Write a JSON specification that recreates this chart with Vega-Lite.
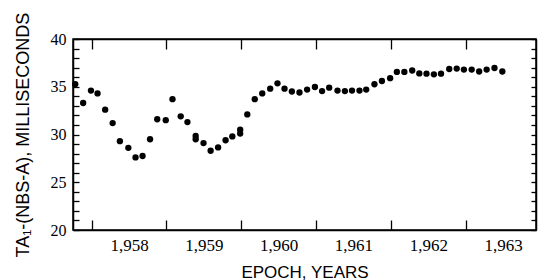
{
  "$schema": "https://vega.github.io/schema/vega-lite/v6.json",
  "width": 463,
  "height": 191,
  "autosize": {"type": "none"},
  "padding": {"left": 73, "top": 39, "right": 4, "bottom": 50},
  "background": "white",
  "config": {
    "view": {"stroke": "black", "strokeWidth": 1.5},
    "axis": {"grid": false, "domain": true, "domainColor": "black", "domainWidth": 1.5, "tickColor": "black", "tickWidth": 1.3, "labelColor": "black", "titleColor": "black"}
  },
  "data": {"values": [
    {"epoch": 1957.78, "ms": 35.26},
    {"epoch": 1957.886, "ms": 33.3},
    {"epoch": 1957.99, "ms": 34.6},
    {"epoch": 1958.078, "ms": 34.3},
    {"epoch": 1958.18, "ms": 32.6},
    {"epoch": 1958.28, "ms": 31.2},
    {"epoch": 1958.377, "ms": 29.3},
    {"epoch": 1958.49, "ms": 28.6},
    {"epoch": 1958.586, "ms": 27.6},
    {"epoch": 1958.68, "ms": 27.75},
    {"epoch": 1958.78, "ms": 29.5},
    {"epoch": 1958.876, "ms": 31.6},
    {"epoch": 1958.99, "ms": 31.5},
    {"epoch": 1959.08, "ms": 33.7},
    {"epoch": 1959.19, "ms": 31.9},
    {"epoch": 1959.28, "ms": 31.3},
    {"epoch": 1959.39, "ms": 29.84},
    {"epoch": 1959.39, "ms": 29.5},
    {"epoch": 1959.495, "ms": 29.1},
    {"epoch": 1959.59, "ms": 28.3},
    {"epoch": 1959.69, "ms": 28.65},
    {"epoch": 1959.79, "ms": 29.4},
    {"epoch": 1959.88, "ms": 29.8},
    {"epoch": 1959.985, "ms": 30.5},
    {"epoch": 1959.985, "ms": 30.1},
    {"epoch": 1960.08, "ms": 32.1},
    {"epoch": 1960.18, "ms": 33.7},
    {"epoch": 1960.28, "ms": 34.3},
    {"epoch": 1960.386, "ms": 34.8},
    {"epoch": 1960.484, "ms": 35.36},
    {"epoch": 1960.578, "ms": 34.8},
    {"epoch": 1960.676, "ms": 34.5},
    {"epoch": 1960.778, "ms": 34.4},
    {"epoch": 1960.88, "ms": 34.7},
    {"epoch": 1960.984, "ms": 34.97},
    {"epoch": 1961.08, "ms": 34.55},
    {"epoch": 1961.175, "ms": 34.9},
    {"epoch": 1961.286, "ms": 34.6},
    {"epoch": 1961.385, "ms": 34.55},
    {"epoch": 1961.48, "ms": 34.6},
    {"epoch": 1961.58, "ms": 34.6},
    {"epoch": 1961.67, "ms": 34.7},
    {"epoch": 1961.78, "ms": 35.26},
    {"epoch": 1961.88, "ms": 35.6},
    {"epoch": 1961.99, "ms": 35.9},
    {"epoch": 1962.08, "ms": 36.55},
    {"epoch": 1962.18, "ms": 36.55},
    {"epoch": 1962.285, "ms": 36.7},
    {"epoch": 1962.38, "ms": 36.4},
    {"epoch": 1962.476, "ms": 36.37},
    {"epoch": 1962.575, "ms": 36.3},
    {"epoch": 1962.67, "ms": 36.37},
    {"epoch": 1962.78, "ms": 36.86},
    {"epoch": 1962.88, "ms": 36.9},
    {"epoch": 1962.976, "ms": 36.8},
    {"epoch": 1963.08, "ms": 36.8},
    {"epoch": 1963.18, "ms": 36.6},
    {"epoch": 1963.28, "ms": 36.8},
    {"epoch": 1963.385, "ms": 36.96},
    {"epoch": 1963.49, "ms": 36.6}
  ]},
  "resolve": {"axis": {"x": "independent", "y": "independent"}},
  "layer": [
    {
      "mark": {"type": "point", "filled": true, "color": "black", "opacity": 1, "size": 40},
      "encoding": {
        "x": {"field": "epoch", "type": "quantitative",
          "scale": {"domain": [1957.75, 1963.94], "nice": false, "zero": false},
          "axis": {"orient": "bottom", "values": [1958, 1959, 1960, 1961, 1962, 1963], "tickSize": -10, "labelOffset": 37.4, "labelFlush": false, "labelFont": "Liberation Sans Narrow", "labelFontSize": 17, "labelPadding": 17, "title": "EPOCH, YEARS", "titleFont": "Liberation Sans", "titleFontSize": 17, "titleFontWeight": "normal", "titleBaseline": "alphabetic", "titleY": 47}},
        "y": {"field": "ms", "type": "quantitative",
          "scale": {"domain": [20, 40], "nice": false, "zero": false},
          "axis": {"orient": "left", "values": [20, 21, 22, 23, 24, 25, 26, 27, 28, 29, 30, 31, 32, 33, 34, 35, 36, 37, 38, 39, 40], "tickSize": -6, "labelExpr": "datum.value % 5 === 0 ? datum.label : ''", "labelFont": "Liberation Sans Narrow", "labelFontSize": 16, "labelPadding": 13, "title": "TA₁-(NBS-A), MILLISECONDS", "titleFont": "Liberation Sans", "titleFontSize": 18, "titleFontWeight": "normal", "titleBaseline": "alphabetic", "titleX": -45, "titleY": 95.5, "titleAngle": -90}}
      }
    },
    {
      "transform": [{"filter": "datum.epoch < 1958"}],
      "mark": {"type": "point", "opacity": 0},
      "encoding": {
        "x": {"field": "epoch", "type": "quantitative", "axis": {"orient": "top", "values": [1958, 1959, 1960, 1961, 1962, 1963], "tickSize": -10, "labels": false, "title": null}},
        "y": {"field": "ms", "type": "quantitative", "axis": {"orient": "right", "values": [20, 21, 22, 23, 24, 25, 26, 27, 28, 29, 30, 31, 32, 33, 34, 35, 36, 37, 38, 39, 40], "tickSize": -5, "labels": false, "title": null}}
      }
    }
  ]
}
